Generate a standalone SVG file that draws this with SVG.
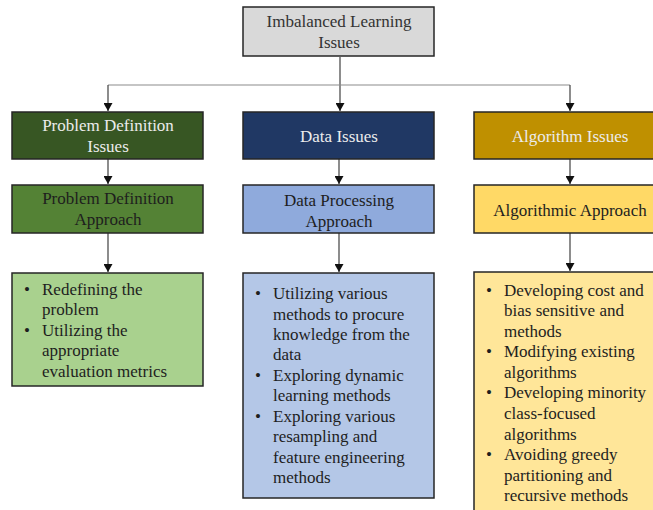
<svg xmlns="http://www.w3.org/2000/svg" width="653" height="510" viewBox="0 0 653 510">
<style>
.box{stroke:#262626;stroke-width:1.5}
text{font-family:"Liberation Serif","Times New Roman",serif;font-size:17px}
.c{text-anchor:middle}
.lt{fill:#ececec}
.dk{fill:#1e1e1e}
.conn{stroke:#404040;stroke-width:1.2;fill:none}
.hl{stroke:#8c8c8c;stroke-width:1.2;fill:none}
</style>
<defs>
<marker id="ah" markerWidth="9" markerHeight="9" refX="8" refY="4.5" orient="auto" markerUnits="userSpaceOnUse">
<path d="M0,0 L8,4.5 L0,9 Z" fill="#111"/>
</marker>
</defs>
<rect width="653" height="510" fill="#fff"/>
<g id="connectors">
<path class="conn" d="M340,57 V111" marker-end="url(#ah)"/>
<path class="hl" d="M108,85 H570"/>
<path class="conn" d="M108,85 V111" marker-end="url(#ah)"/>
<path class="conn" d="M570,85 V111" marker-end="url(#ah)"/>
<path class="conn" d="M108,159 V184" marker-end="url(#ah)"/>
<path class="conn" d="M339,159 V184" marker-end="url(#ah)"/>
<path class="conn" d="M570,159 V184" marker-end="url(#ah)"/>
<path class="conn" d="M108,233 V272" marker-end="url(#ah)"/>
<path class="conn" d="M339,233 V272" marker-end="url(#ah)"/>
<path class="conn" d="M570,233 V271" marker-end="url(#ah)"/>
</g>
<g id="root">
<rect class="box" x="243" y="7" width="191" height="49" fill="#d9d9d9"/>
<text class="c" x="339" y="27" fill="#333">Imbalanced Learning</text>
<text class="c" x="339" y="48" fill="#333">Issues</text>
</g>
<g id="problem-issues">
<rect class="box" x="12" y="112" width="191" height="47" fill="#375623"/>
<text class="c lt" x="108" y="131">Problem Definition</text>
<text class="c lt" x="108" y="152">Issues</text>
</g>
<g id="data-issues">
<rect class="box" x="243" y="112" width="191" height="47" fill="#203864"/>
<text class="c lt" x="339" y="142">Data Issues</text>
</g>
<g id="algorithm-issues">
<rect class="box" x="474" y="112" width="191" height="47" fill="#bf9000"/>
<text class="c lt" x="570" y="142">Algorithm Issues</text>
</g>
<g id="problem-approach">
<rect class="box" x="12" y="185" width="191" height="48" fill="#548235"/>
<text class="c dk" x="108" y="204">Problem Definition</text>
<text class="c dk" x="108" y="225">Approach</text>
</g>
<g id="data-approach">
<rect class="box" x="243" y="185" width="191" height="48" fill="#8faadc"/>
<text class="c dk" x="339" y="206">Data Processing</text>
<text class="c dk" x="339" y="227">Approach</text>
</g>
<g id="algorithm-approach">
<rect class="box" x="474" y="185" width="191" height="48" fill="#ffd966"/>
<text class="c dk" x="570" y="216">Algorithmic Approach</text>
</g>
<g id="problem-list">
<rect class="box" x="12" y="273" width="191" height="113" fill="#a9d18e"/>
<text class="dk" x="24" y="295">•</text><text class="dk" x="42" y="295">Redefining the</text>
<text class="dk" x="42" y="315">problem</text>
<text class="dk" x="24" y="336">•</text><text class="dk" x="42" y="336">Utilizing  the</text>
<text class="dk" x="42" y="356">appropriate</text>
<text class="dk" x="42" y="377">evaluation metrics</text>
</g>
<g id="data-list">
<rect class="box" x="243" y="273" width="191" height="225" fill="#b4c7e7"/>
<text class="dk" x="255" y="299">•</text><text class="dk" x="273" y="299">Utilizing  various</text>
<text class="dk" x="273" y="320">methods to procure</text>
<text class="dk" x="273" y="340">knowledge from the</text>
<text class="dk" x="273" y="360">data</text>
<text class="dk" x="255" y="381">•</text><text class="dk" x="273" y="381">Exploring dynamic</text>
<text class="dk" x="273" y="401">learning methods</text>
<text class="dk" x="255" y="422">•</text><text class="dk" x="273" y="422">Exploring various</text>
<text class="dk" x="273" y="442">resampling and</text>
<text class="dk" x="273" y="463">feature engineering</text>
<text class="dk" x="273" y="483">methods</text>
</g>
<g id="algorithm-list">
<rect class="box" x="474" y="272" width="191" height="250" fill="#ffe699"/>
<text class="dk" x="486" y="296">•</text><text class="dk" x="504" y="296">Developing cost and</text>
<text class="dk" x="504" y="316">bias sensitive and</text>
<text class="dk" x="504" y="337">methods</text>
<text class="dk" x="486" y="357">•</text><text class="dk" x="504" y="357">Modifying existing</text>
<text class="dk" x="504" y="378">algorithms</text>
<text class="dk" x="486" y="398">•</text><text class="dk" x="504" y="398">Developing minority</text>
<text class="dk" x="504" y="419">class-focused</text>
<text class="dk" x="504" y="440">algorithms</text>
<text class="dk" x="486" y="460">•</text><text class="dk" x="504" y="460">Avoiding greedy</text>
<text class="dk" x="504" y="481">partitioning and</text>
<text class="dk" x="504" y="501">recursive methods</text>
</g>
</svg>
